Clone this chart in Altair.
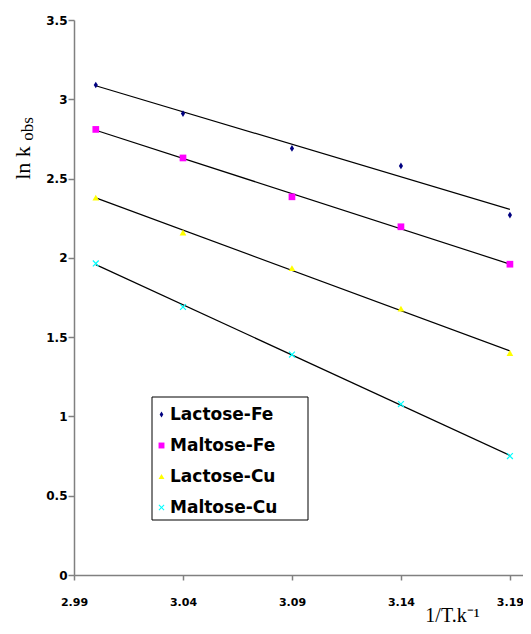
import altair as alt
import pandas as pd

x_vals = [3.00, 3.04, 3.09, 3.14, 3.19]
series = ["Lactose-Fe", "Maltose-Fe", "Lactose-Cu", "Maltose-Cu"]
lactose_fe = [3.09, 2.91, 2.69, 2.58, 2.27]
maltose_fe = [2.81, 2.63, 2.385, 2.196, 1.96]
lactose_cu = [2.38, 2.16, 1.935, 1.68, 1.40]
maltose_cu = [1.965, 1.69, 1.39, 1.078, 0.75]
x_ticks = [2.99, 3.04, 3.09, 3.14, 3.19]
y_ticks = [0, 0.5, 1, 1.5, 2, 2.5, 3, 3.5]

colors = ["#000080", "#FF00FF", "#FFFF00", "#00FFFF"]
shapes = [
    "M0,-1L0.62,0L0,1L-0.62,0Z",
    "square",
    "triangle-up",
    "M-1,-0.75L-0.75,-1L0,-0.25L0.75,-1L1,-0.75L0.25,0L1,0.75L0.75,1L0,0.25L-0.75,1L-1,0.75L-0.25,0Z",
]

rows = []
for name, vals in zip(series, [lactose_fe, maltose_fe, lactose_cu, maltose_cu]):
    for xv, yv in zip(x_vals, vals):
        rows.append({"x": xv, "y": yv, "series": name})
df = pd.DataFrame(rows)

xscale = alt.Scale(domain=[2.99, 3.196], nice=False, zero=False)
yscale = alt.Scale(domain=[0, 3.5], nice=False)

xaxis = alt.Axis(
    values=x_ticks, format=".2f", grid=False,
    domainColor="#808080", domainWidth=1.5, tickColor="#808080", tickWidth=1.5, tickSize=5,
    labelFont="DejaVu Sans", labelFontWeight="bold", labelFontSize=11, labelColor="black",
    labelPadding=16, labelFlush=False,
    title="1/T.k\u207b\u00b9", titleFont="Liberation Serif", titleFontWeight="normal",
    titleFontSize=20, titleColor="black", titleX=378, titleY=46, titleAlign="center",
    titleBaseline="alphabetic",
)
yaxis = alt.Axis(
    values=y_ticks, labelExpr="format(datum.value, '~g')", grid=False,
    domainColor="#808080", domainWidth=1.5, tickColor="#808080", tickWidth=1.5, tickSize=6,
    labelFont="DejaVu Sans", labelFontWeight="bold", labelFontSize=12, labelColor="black",
    labelPadding=1, title=None,
)

base = alt.Chart(df)

lines = base.transform_regression("x", "y", groupby=["series"]).mark_line(
    color="black", strokeWidth=1.2
).encode(
    x=alt.X("x:Q", scale=xscale, axis=xaxis),
    y=alt.Y("y:Q", scale=yscale, axis=yaxis),
    detail="series:N",
)

points = base.mark_point(filled=True, size=45, opacity=1).encode(
    x=alt.X("x:Q", scale=xscale),
    y=alt.Y("y:Q", scale=yscale),
    color=alt.Color("series:N", scale=alt.Scale(domain=series, range=colors), legend=alt.Legend(
        title=None, orient="none", legendX=79, legendY=386,
        padding=0, rowPadding=13,
        labelFont="DejaVu Sans", labelFontWeight="bold", labelFontSize=17, labelColor="black",
        symbolSize=35, labelOffset=0, symbolStrokeWidth=0,
    )),
    shape=alt.Shape("series:N", scale=alt.Scale(domain=series, range=shapes), legend=None),
)

frame_df = pd.DataFrame({"t": ["frame"]})
legend_frame = alt.Chart(frame_df).mark_rect(
    fill="white", stroke="black", strokeWidth=1
).encode(x=alt.value(78), x2=alt.value(234), y=alt.value(377), y2=alt.value(500))

lbl = pd.DataFrame({"t": ["ln k"]})
ytitle1 = alt.Chart(lbl).mark_text(
    text="ln k", font="Liberation Serif", fontSize=22, angle=270, align="center", baseline="alphabetic", color="black"
).encode(x=alt.value(-44), y=alt.value(143))
ytitle2 = alt.Chart(lbl).mark_text(
    text="obs", font="Liberation Serif", fontSize=17, angle=270, align="center", baseline="alphabetic", color="black"
).encode(x=alt.value(-41), y=alt.value(109))

chart = alt.layer(lines, points, legend_frame, ytitle1, ytitle2).properties(
    width=449, height=555,
    autosize=alt.AutoSizeParams(type="none"),
    padding={"left": 66, "top": 12, "right": 0, "bottom": 50},
).configure_view(stroke=None)

chart.save("out.html", embed_options={"renderer": "svg", "actions": False})
